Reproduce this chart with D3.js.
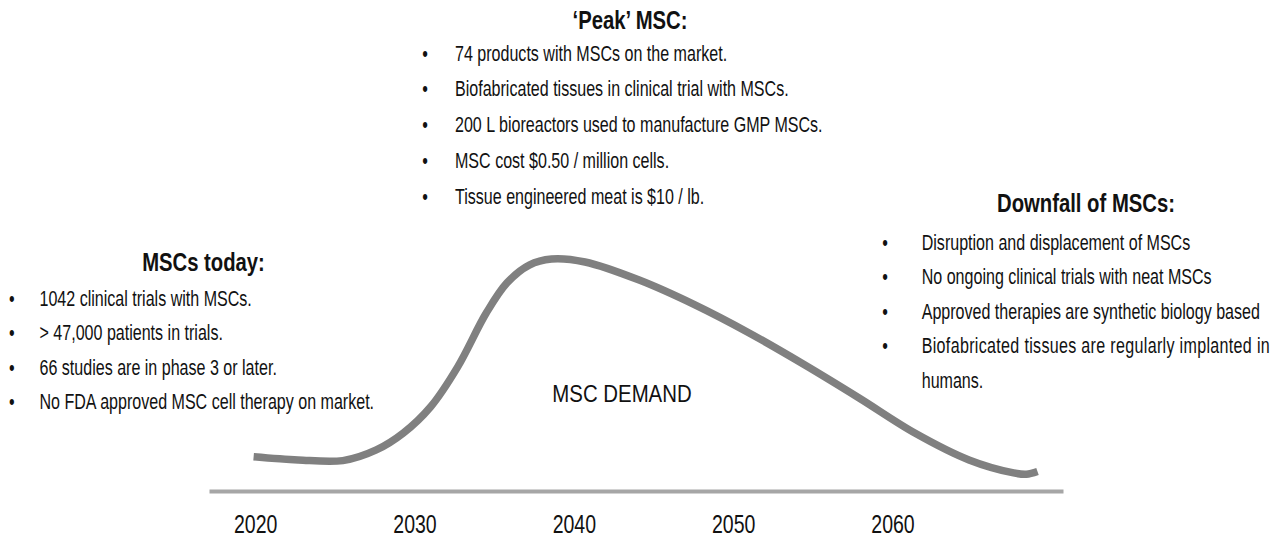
<!DOCTYPE html>
<html>
<head>
<meta charset="utf-8">
<script src="https://cdn.jsdelivr.net/npm/d3@7"></script>
<style>
  html, body { margin: 0; padding: 0; background: #fff; }
  svg { display: block; }
  text { font-family: "Liberation Sans", Arial, Helvetica, sans-serif; fill: #111; }
</style>
</head>
<body>
<svg id="chart" width="1279" height="540"></svg>
<script>
// ---- data ----
const yearTicks = [2020, 2030, 2040, 2050, 2060];
const demandYears = [2019.9, 2022.7, 2025.5, 2027.6, 2029.3, 2031.0, 2032.7, 2034.5, 2035.8, 2037.2, 2038.6, 2040.7, 2044.1, 2047.6, 2051.0, 2054.5, 2057.9, 2061.4, 2064.8, 2067.6, 2068.4, 2069.1];
const demandValues = [14.8, 13.4, 13.1, 17.7, 25.0, 36.2, 53.4, 76.7, 89.7, 97.4, 100, 98.7, 90.9, 80.2, 68.1, 54.3, 40.1, 25.0, 13.4, 7.8, 7.2, 8.4];
const curveLabel = "MSC DEMAND";

const todayTitle = "MSCs today:";
const todayItems = [
  "1042 clinical trials with MSCs.",
  "> 47,000 patients in trials.",
  "66 studies are in phase 3 or later.",
  "No FDA approved MSC cell therapy on market."
];
const peakTitle = "\u2018Peak\u2019 MSC:";
const peakItems = [
  "74 products with MSCs on the market.",
  "Biofabricated tissues in clinical trial with MSCs.",
  "200 L bioreactors used to manufacture GMP MSCs.",
  "MSC cost $0.50 / million cells.",
  "Tissue engineered meat is $10 / lb."
];
const downfallTitle = "Downfall of MSCs:";
const downfallItems = [
  "Disruption and displacement of MSCs",
  "No ongoing clinical trials with neat MSCs",
  "Approved therapies are synthetic biology based",
  ["Biofabricated tissues are regularly implanted in", "humans."]
];

// ---- chart ----
const svg = d3.select("#chart");
const axisY = 491;
const x = d3.scaleLinear().domain([2017.1, 2070.7]).range([209, 1063]);
const y = d3.scaleLinear().domain([0, 100]).range([axisY, 259]);

// axis
const axisG = svg.append("g")
  .attr("transform", `translate(0,${axisY})`)
  .call(d3.axisBottom(x).tickValues(yearTicks).tickFormat(d3.format("d")).tickSize(0));
axisG.select(".domain").attr("stroke", "#a6a6a6").attr("stroke-width", 4);
axisG.selectAll(".tick text")
  .attr("y", 42).attr("dy", null)
  .attr("transform", "scale(0.78,1)")
  .style("font-family", '"Liberation Sans", Arial, sans-serif')
  .style("font-size", "25px")
  .attr("fill", "#111");

// demand curve
const line = d3.line()
  .x((d, i) => x(demandYears[i]))
  .y(d => y(d))
  .curve(d3.curveCatmullRom.alpha(0.5));
svg.append("path")
  .attr("d", line(demandValues))
  .attr("fill", "none")
  .attr("stroke", "#808080")
  .attr("stroke-width", 7.5)
  .attr("stroke-linecap", "butt");

svg.append("text")
  .attr("transform", "translate(622,401.5) scale(0.85,1)")
  .attr("text-anchor", "middle")
  .style("font-size", "24px")
  .text(curveLabel);

// text blocks
function block(title, items, o) {
  const g = svg.append("g");
  g.append("text")
    .attr("transform", `translate(${o.titleX},${o.titleY}) scale(0.78,1)`)
    .attr("text-anchor", "middle")
    .style("font-size", "26px")
    .style("font-weight", "bold")
    .text(title);
  let row = 0;
  items.forEach(item => {
    const lines = Array.isArray(item) ? item : [item];
    g.append("text")
      .attr("transform", `translate(${o.bulletX},${o.startY + row * o.gap}) scale(0.73,1)`)
      .attr("text-anchor", "middle")
      .style("font-size", "22px")
      .text("\u2022");
    lines.forEach((l, j) => {
      const t = g.append("text")
        .attr("transform", `translate(${o.textX},${o.startY + row * o.gap}) scale(0.73,1)`)
        .style("font-size", "22px")
        .text(l);
      // justified (wrapped, non-final) lines stretch to the block width
      if (o.justifyWidth && lines.length > 1 && j < lines.length - 1) {
        t.attr("textLength", o.justifyWidth / 0.73).attr("lengthAdjust", "spacing");
      }
      row++;
    });
  });
}

block(todayTitle, todayItems, { titleX: 203.5, titleY: 271.3, bulletX: 11.7, textX: 39.5, startY: 306, gap: 34.3 });
block(peakTitle, peakItems, { titleX: 630, titleY: 28.5, bulletX: 425, textX: 455, startY: 60.5, gap: 35.8 });
block(downfallTitle, downfallItems, { titleX: 1086, titleY: 211.7, bulletX: 885, textX: 921.7, startY: 249.5, gap: 34.5, justifyWidth: 348 });
</script>
</body>
</html>
